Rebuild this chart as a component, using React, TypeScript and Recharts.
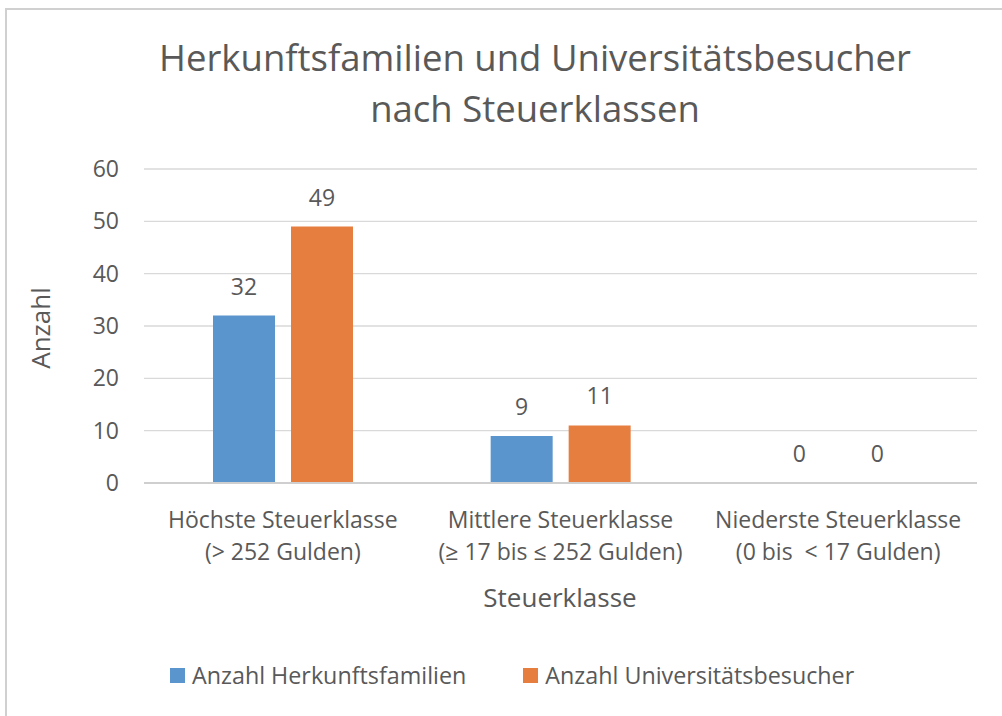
import { BarChart, Bar, XAxis, YAxis, CartesianGrid, LabelList } from "recharts";

const CATEGORIES = [
  "Höchste Steuerklasse\n(> 252 Gulden)",
  "Mittlere Steuerklasse\n(≥ 17 bis ≤ 252 Gulden)",
  "Niederste Steuerklasse\n(0 bis  < 17 Gulden)",
];
const HERKUNFT = [32, 9, 0];
const BESUCHER = [49, 11, 0];
const Y_TICKS = [0, 10, 20, 30, 40, 50, 60];

const SERIES = [
  { key: "herkunft", name: "Anzahl Herkunftsfamilien", color: "#5B95CD" },
  { key: "besucher", name: "Anzahl Universitätsbesucher", color: "#E67E40" },
];

const TITLE = ["Herkunftsfamilien und Universitätsbesucher", "nach Steuerklassen"];
const X_TITLE = "Steuerklasse";
const Y_TITLE = "Anzahl";

const FONT = "'Open Sans', 'Noto Sans', sans-serif";
const TEXT = "#595959";
const GRID = "#d9d9d9";

const data = CATEGORIES.map((c, i) => ({ cat: c, herkunft: HERKUNFT[i], besucher: BESUCHER[i] }));

function CatTick(props: any) {
  const { x, y, payload } = props;
  const lines = String(payload.value).split("\n");
  return (
    <text x={x} y={y} textAnchor="middle" fill={TEXT} fontSize={23} fontFamily={FONT} style={{ whiteSpace: "pre" }}>
      {lines.map((l, i) => (
        <tspan key={i} x={x} dy={i === 0 ? 37 : 32}>
          {l}
        </tspan>
      ))}
    </text>
  );
}

export default function App() {
  return (
    <div style={{ position: "fixed", left: 0, top: 0, width: 1002, height: 716, overflow: "hidden", background: "#fff", fontFamily: FONT }}>
      {/* outer frame, only top and left edges fall inside the picture */}
      <div style={{ position: "absolute", left: 5, top: 8, width: 1100, height: 800, border: "2px solid #d0d0d0" }} />

      <div style={{ position: "absolute", left: 0, top: 32, width: 1070, textAlign: "center", color: TEXT, fontSize: 36.5, lineHeight: "51px" }}>
        {TITLE.map((t) => (
          <div key={t}>{t}</div>
        ))}
      </div>

      <div style={{ position: "absolute", left: 0, top: 0 }}>
        <BarChart width={1002} height={716} data={data} margin={{ top: 169, right: 25, bottom: 153, left: 84 }} barGap={16}>
          <CartesianGrid horizontal vertical={false} stroke={GRID} strokeWidth={1.3} />
          <XAxis
            dataKey="cat"
            interval={0}
            height={80}
            axisLine={{ stroke: "#cfcfcf", strokeWidth: 2 }}
            tickLine={false}
            tick={<CatTick />}
          />
          <YAxis
            domain={[0, 60]}
            ticks={Y_TICKS}
            width={60}
            axisLine={false}
            tickLine={false}
            tickSize={0}
            tickMargin={25}
            tick={{ fill: TEXT, fontSize: 23, fontFamily: FONT }}
          />
          {SERIES.map((s) => (
            <Bar key={s.key} dataKey={s.key} name={s.name} fill={s.color} barSize={62} minPointSize={0.01} isAnimationActive={false}>
              <LabelList dataKey={s.key} position="top" offset={21} fill={TEXT} fontSize={23} fontFamily={FONT} />
            </Bar>
          ))}
        </BarChart>
      </div>

      <div style={{ position: "absolute", left: 400, top: 579, width: 320, textAlign: "center", lineHeight: "36px", color: TEXT, fontSize: 26 }}>
        {X_TITLE}
      </div>
      <div style={{ position: "absolute", left: 40, top: 328, transform: "translate(-50%, -50%) rotate(-90deg)", color: TEXT, fontSize: 26, whiteSpace: "nowrap" }}>
        {Y_TITLE}
      </div>

      <div style={{ position: "absolute", left: 170, top: 660, height: 30, display: "flex", alignItems: "center", color: TEXT, fontSize: 23.3 }}>
        {SERIES.map((s, i) => (
          <div key={s.key} style={{ display: "flex", alignItems: "center", marginLeft: i === 0 ? 0 : 57 }}>
            <span style={{ display: "inline-block", width: 15, height: 15, background: s.color, marginRight: 7 }} />
            <span>{s.name}</span>
          </div>
        ))}
      </div>
    </div>
  );
}
